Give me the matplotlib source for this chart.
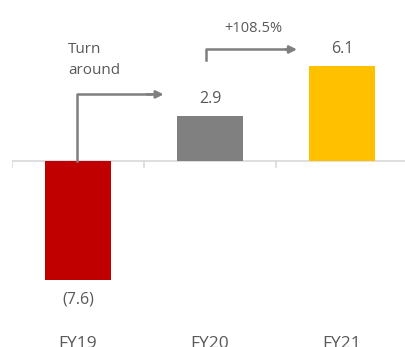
import matplotlib
matplotlib.use('Agg')
import matplotlib.pyplot as plt

categories = ['FY19', 'FY20', 'FY21']
values = [-7.6, 2.9, 6.1]
value_labels = ['(7.6)', '2.9', '6.1']
bar_colors = ['#C00000', '#808080', '#FFC000']

TEXT = '#595959'
ARROW = '#7F7F7F'

plt.rcParams['font.family'] = ['Open Sans', 'DejaVu Sans']

fig = plt.figure(figsize=(4.06, 3.47), dpi=100)
ax = fig.add_axes([12 / 406, 0, 394 / 406, 1])
ax.set_xlim(-0.5, 2.485)
ax.set_ylim(-11.92, 10.32)
ax.axis('off')

x = list(range(len(categories)))
ax.bar(x, values, width=0.5, color=bar_colors, zorder=2)

# baseline with category dividers
ax.axhline(0, color='#D9D9D9', lw=1.2, zorder=1)
for d in [-0.5, 0.5, 1.5]:
    ax.plot([d, d], [0, -0.4], color='#D9D9D9', lw=1.2, zorder=1)

for xi, v, lab in zip(x, values, value_labels):
    if v < 0:
        ax.text(xi, v - 1.3, lab, ha='center', va='center', fontsize=11.5, color=TEXT)
    else:
        ax.text(xi, v + 1.1, lab, ha='center', va='center', fontsize=11.5, color=TEXT)

for xi, c in zip(x, categories):
    ax.text(xi, -11.75, c, ha='center', va='center', fontsize=12.5, color=TEXT)

# turnaround arrow
ax.plot([-0.01, -0.01, 0.55], [0, 4.27, 4.27], color=ARROW, lw=1.8, zorder=3)
ax.annotate('', xy=(0.67, 4.27), xytext=(0.5, 4.27),
            arrowprops=dict(arrowstyle='-|>', color=ARROW, lw=1.8, mutation_scale=11))
ax.text(-0.075, 6.5, 'Turn\naround', ha='left', va='center', fontsize=11,
        color=TEXT, linespacing=1.55)

# growth arrow
ax.plot([0.97, 0.97, 1.6], [6.45, 7.15, 7.15], color=ARROW, lw=1.8, zorder=3)
ax.annotate('', xy=(1.68, 7.15), xytext=(1.55, 7.15),
            arrowprops=dict(arrowstyle='-|>', color=ARROW, lw=1.8, mutation_scale=11))
ax.text(1.33, 8.5, '+108.5%', ha='center', va='center', fontsize=10.5, color=TEXT)

fig.savefig('out.png', dpi=100)
